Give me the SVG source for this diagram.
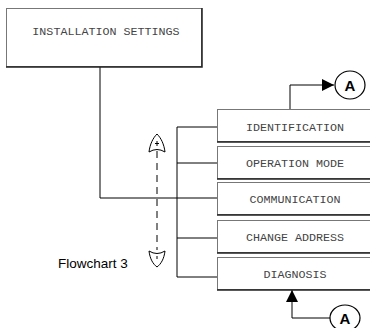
<svg xmlns="http://www.w3.org/2000/svg" width="370" height="328" viewBox="0 0 370 328">
<defs>
<style>
.box{fill:#fff;stroke:#777;stroke-width:1}
.sh{fill:none;stroke:#222;stroke-width:1.5}
.lbl{font-family:"Liberation Mono",monospace;font-size:11.7px;fill:#444;text-anchor:middle}
.ln{fill:none;stroke:#000;stroke-width:1}
.cir{fill:#fff;stroke:#000;stroke-width:1.2}
.ca{font-family:"Liberation Sans",Arial,sans-serif;font-size:15px;font-weight:bold;fill:#000;text-anchor:middle}
.hand{fill:none;stroke:#000;stroke-width:1}
</style>
<marker id="ah" viewBox="0 0 10 10" refX="10" refY="5" markerWidth="12" markerHeight="12" markerUnits="userSpaceOnUse" orient="auto">
<path d="M0,0 L10,5 L0,10 Z" fill="#000"/>
</marker>
</defs>
<g id="connectors">
<path class="ln" d="M100,67 V198 H217"/>
<path class="ln" d="M217,127 H177 V277 H217"/>
<path class="ln" d="M177,163 H217 M177,238 H217"/>
<path class="ln" d="M290,109 V85 H334" marker-end="url(#ah)"/>
<path class="ln" d="M330,318 H292 V290" marker-end="url(#ah)"/>
<path d="M157,151 V250" fill="none" stroke="#000" stroke-width="1" stroke-dasharray="7,5"/>
</g>
<g id="installation-settings">
<rect class="box" x="6.5" y="8.5" width="195" height="58"/>
<path class="sh" d="M202,8 V67 H6"/>
<text class="lbl" x="106" y="35">INSTALLATION SETTINGS</text>
</g>
<g id="identification">
<rect class="box" x="217.5" y="109.5" width="160" height="32"/>
<path class="sh" d="M217,142 H371"/>
<text class="lbl" x="295" y="131">IDENTIFICATION</text>
</g>
<g id="operation-mode">
<rect class="box" x="217.5" y="146.5" width="160" height="32"/>
<path class="sh" d="M217,179 H371"/>
<text class="lbl" x="295" y="167">OPERATION MODE</text>
</g>
<g id="communication">
<rect class="box" x="217.5" y="182.5" width="160" height="32"/>
<path class="sh" d="M217,215 H371"/>
<text class="lbl" x="295" y="203">COMMUNICATION</text>
</g>
<g id="change-address">
<rect class="box" x="217.5" y="220.5" width="160" height="32"/>
<path class="sh" d="M217,253 H371"/>
<text class="lbl" x="295" y="241">CHANGE ADDRESS</text>
</g>
<g id="diagnosis">
<rect class="box" x="217.5" y="257.5" width="160" height="32"/>
<path class="sh" d="M217,290 H371"/>
<text class="lbl" x="295" y="278">DIAGNOSIS</text>
</g>
<g id="connector-a-top">
<ellipse class="cir" cx="350" cy="85" rx="15" ry="14"/>
<text class="ca" x="350" y="90.5">A</text>
</g>
<g id="connector-a-bottom">
<ellipse class="cir" cx="345" cy="318" rx="15" ry="13"/>
<text class="ca" x="345" y="323.5">A</text>
</g>
<g id="flowchart-3">
<path class="hand" d="M157,134 C153,138 150,144 149,152 Q157,147 165,152 C164,144 161,138 157,134 Z M157,141 V146 M155,143.5 H159"/>
<path class="hand" d="M149,251 Q157,256 165,251 C164,259 161,264 157,267 C153,264 150,259 149,251 Z M157,256 V259"/>
<text x="58" y="268" font-family="'Liberation Sans',Arial,sans-serif" font-size="13.5px" fill="#000">Flowchart 3</text>
</g>
</svg>
